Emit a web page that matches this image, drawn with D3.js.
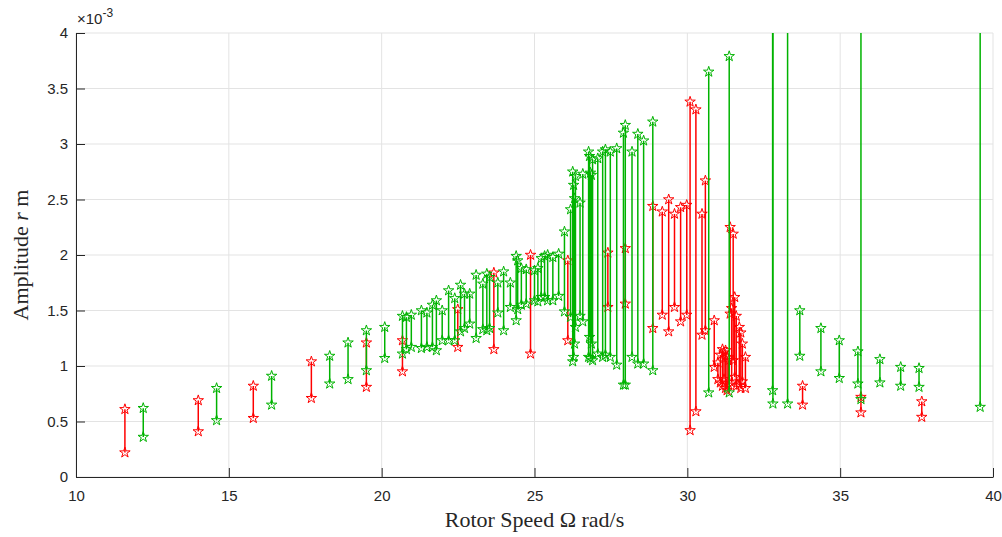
<!DOCTYPE html>
<html><head><meta charset="utf-8">
<script src="https://cdn.jsdelivr.net/npm/d3@7"></script>
<style>body{margin:0;background:#fff}svg{display:block}</style>
</head><body>
<svg id="chart" width="1002" height="537"></svg>
<script>
// Values in units of 1e-3 m (axis shows ×10^-3)
const xTicks = [10, 15, 20, 25, 30, 35, 40];
const yTicks = [0, 0.5, 1, 1.5, 2, 2.5, 3, 3.5, 4];
// [speed, high amplitude, low amplitude]
const unstableRuns = [
  [11.6,0.61,0.22],[14.0,0.69,0.41],[15.8,0.82,0.53],[17.7,1.04,0.71],[19.5,1.21,0.81],
  [20.68,1.23,0.95],[22.49,1.51,1.17],[23.67,1.84,1.15],[24.87,2.00,1.11],[26.09,1.95,1.23],
  [27.40,2.02,1.53],[27.97,2.06,1.56],[28.87,2.44,1.34],[29.18,2.39,1.46],[29.39,2.50,1.31],
  [29.58,2.37,1.53],[29.78,2.43,1.40],[29.98,2.45,1.46],[30.09,3.38,0.42],[30.28,3.31,0.59],
  [30.48,2.37,1.28],[30.59,2.67,1.32],[30.88,1.41,0.99],[31.00,1.03,0.88],[31.08,1.10,0.85],
  [31.15,1.15,0.82],[31.20,1.12,0.88],[31.25,1.14,0.80],[31.30,1.08,0.78],[31.35,1.05,0.83],
  [31.40,2.25,1.47],[31.45,1.52,0.85],[31.50,2.19,1.05],[31.55,1.62,0.90],[31.60,1.45,0.82],
  [31.70,1.35,0.83],[31.75,1.30,0.80],[31.80,1.20,0.86],[31.90,1.08,0.80],
  [33.77,0.82,0.65],[35.68,0.72,0.58],[37.67,0.68,0.54]
];
const stableRuns = [
  [12.2,0.62,0.36],[14.6,0.80,0.51],[16.4,0.91,0.65],[18.3,1.09,0.84],[18.9,1.21,0.88],
  [19.5,1.32,0.96],[20.1,1.35,1.07],[20.68,1.45,1.11],[20.81,1.44,1.15],[20.97,1.46,1.17],
  [21.30,1.50,1.16],[21.48,1.48,1.17],[21.66,1.55,1.17],[21.79,1.59,1.14],[21.98,1.50,1.23],
  [22.19,1.68,1.23],[22.39,1.61,1.23],[22.58,1.73,1.31],[22.71,1.65,1.34],[22.88,1.65,1.38],
  [23.09,1.82,1.25],[23.31,1.74,1.33],[23.44,1.83,1.32],[23.53,1.80,1.34],[23.80,1.75,1.48],
  [23.99,1.85,1.32],[24.21,1.75,1.53],[24.40,1.99,1.41],[24.45,1.95,1.51],[24.57,1.88,1.55],
  [24.73,1.87,1.56],[25.00,1.86,1.59],[25.11,1.88,1.58],[25.22,1.97,1.62],[25.33,1.99,1.62],
  [25.43,2.00,1.59],[25.60,1.98,1.59],[25.79,2.01,1.63],[25.98,2.21,1.49],[26.18,2.41,1.44],
  [26.25,2.75,1.04],[26.28,2.63,1.08],[26.31,2.51,1.20],[26.34,2.71,1.35],[26.49,2.47,1.45],
  [26.58,2.73,1.40],[26.77,2.93,1.08],[26.80,2.89,1.26],[26.83,2.74,1.07],[26.86,2.72,1.20],
  [26.90,2.86,1.05],[27.07,2.87,1.11],[27.23,2.93,1.08],[27.32,2.95,1.10],[27.48,2.93,1.08],
  [27.69,2.96,1.01],[27.91,3.10,0.83],[27.97,3.17,0.83],[28.19,2.93,1.08],[28.38,3.09,1.02],
  [28.57,3.03,1.02],[28.87,3.20,0.96],[30.70,3.65,0.76],[31.37,3.79,0.76],[32.79,5.5,0.78],
  [32.80,5.5,0.66],[33.28,5.5,0.66],[33.68,1.50,1.09],[34.37,1.34,0.95],[34.97,1.23,0.89],
  [35.58,1.13,0.84],[35.68,5.5,0.70],[36.30,1.06,0.85],[36.98,0.99,0.82],[37.58,0.98,0.81],
  [39.58,5.5,0.63]
];
const xLabel = "Rotor Speed Ω rad/s";

const svg = d3.select("#chart");
const L = 76, R = 993, T = 33, B = 477;
const x = d3.scaleLinear().domain([10, 40]).range([L, R]);
const y = d3.scaleLinear().domain([0, 4]).range([B, T]);
const ink = "#262626";

// grid
const g = svg.append("g");
g.selectAll(".gx").data(xTicks).join("line")
  .attr("x1", d => x(d)).attr("x2", d => x(d)).attr("y1", T).attr("y2", B)
  .attr("stroke", "#e3e3e3").attr("stroke-width", 1);
g.selectAll(".gy").data(yTicks).join("line")
  .attr("x1", L).attr("x2", R).attr("y1", d => y(d)).attr("y2", d => y(d))
  .attr("stroke", "#e3e3e3").attr("stroke-width", 1);

// data
svg.append("clipPath").attr("id", "clip").append("rect")
  .attr("x", L).attr("y", T).attr("width", R - L).attr("height", B - T);
const plot = svg.append("g").attr("clip-path", "url(#clip)");
const star = d3.symbol().type(d3.symbolStar).size(34);

function drawSeries(data, color) {
  const s = plot.append("g");
  s.selectAll("line").data(data).join("line")
    .attr("x1", d => x(d[0])).attr("x2", d => x(d[0]))
    .attr("y1", d => y(d[1])).attr("y2", d => y(d[2]))
    .attr("stroke", color).attr("stroke-width", 1.5);
  const pts = data.flatMap(d => [[d[0], d[1]], [d[0], d[2]]]);
  s.selectAll("path").data(pts).join("path")
    .attr("d", star)
    .attr("transform", d => `translate(${x(d[0])},${y(d[1])})`)
    .attr("fill", "none").attr("stroke", color).attr("stroke-width", 1);
}
drawSeries(unstableRuns, "#ff0000");
drawSeries(stableRuns, "#00b300");

// axes
const xAxis = d3.axisBottom(x).tickValues(xTicks).tickSizeInner(-9).tickSizeOuter(0).tickPadding(16);
const yAxis = d3.axisLeft(y).tickValues(yTicks).tickSizeInner(-9).tickSizeOuter(0).tickPadding(16)
  .tickFormat(d3.format("~g"));
const gx = svg.append("g").attr("transform", `translate(0,${B})`).call(xAxis);
const gy = svg.append("g").attr("transform", `translate(${L},0)`).call(yAxis);
[gx, gy].forEach(a => {
  a.select(".domain").attr("stroke", ink).attr("stroke-width", 1);
  a.selectAll(".tick line").attr("stroke", ink);
  a.selectAll("text").attr("fill", ink).style("font-family", "'Liberation Sans', Arial, sans-serif").style("font-size", "15px");
});
gy.selectAll("text").attr("dx", "8");
gx.selectAll("text").attr("dy", "0.55em");

// exponent
const ex = svg.append("text").attr("x", 77).attr("y", 24).attr("fill", ink)
  .style("font-family", "'Liberation Sans', Arial, sans-serif").style("font-size", "15px");
ex.append("tspan").text("×10");
ex.append("tspan").attr("dy", -7).style("font-size", "12px").text("-3");

// labels
svg.append("text").attr("x", (L + R) / 2).attr("y", 527).attr("text-anchor", "middle")
  .attr("fill", ink).style("font-family", "'Liberation Serif', 'DejaVu Serif', serif").style("font-size", "22px")
  .text(xLabel);
const yl = svg.append("text").attr("transform", "translate(28,255) rotate(-90)").attr("text-anchor", "middle")
  .attr("fill", ink).style("font-family", "'Liberation Serif', 'DejaVu Serif', serif").style("font-size", "22px");
yl.append("tspan").text("Amplitude ");
yl.append("tspan").style("font-style", "italic").text("r");
yl.append("tspan").text(" m");
</script>
</body></html>
